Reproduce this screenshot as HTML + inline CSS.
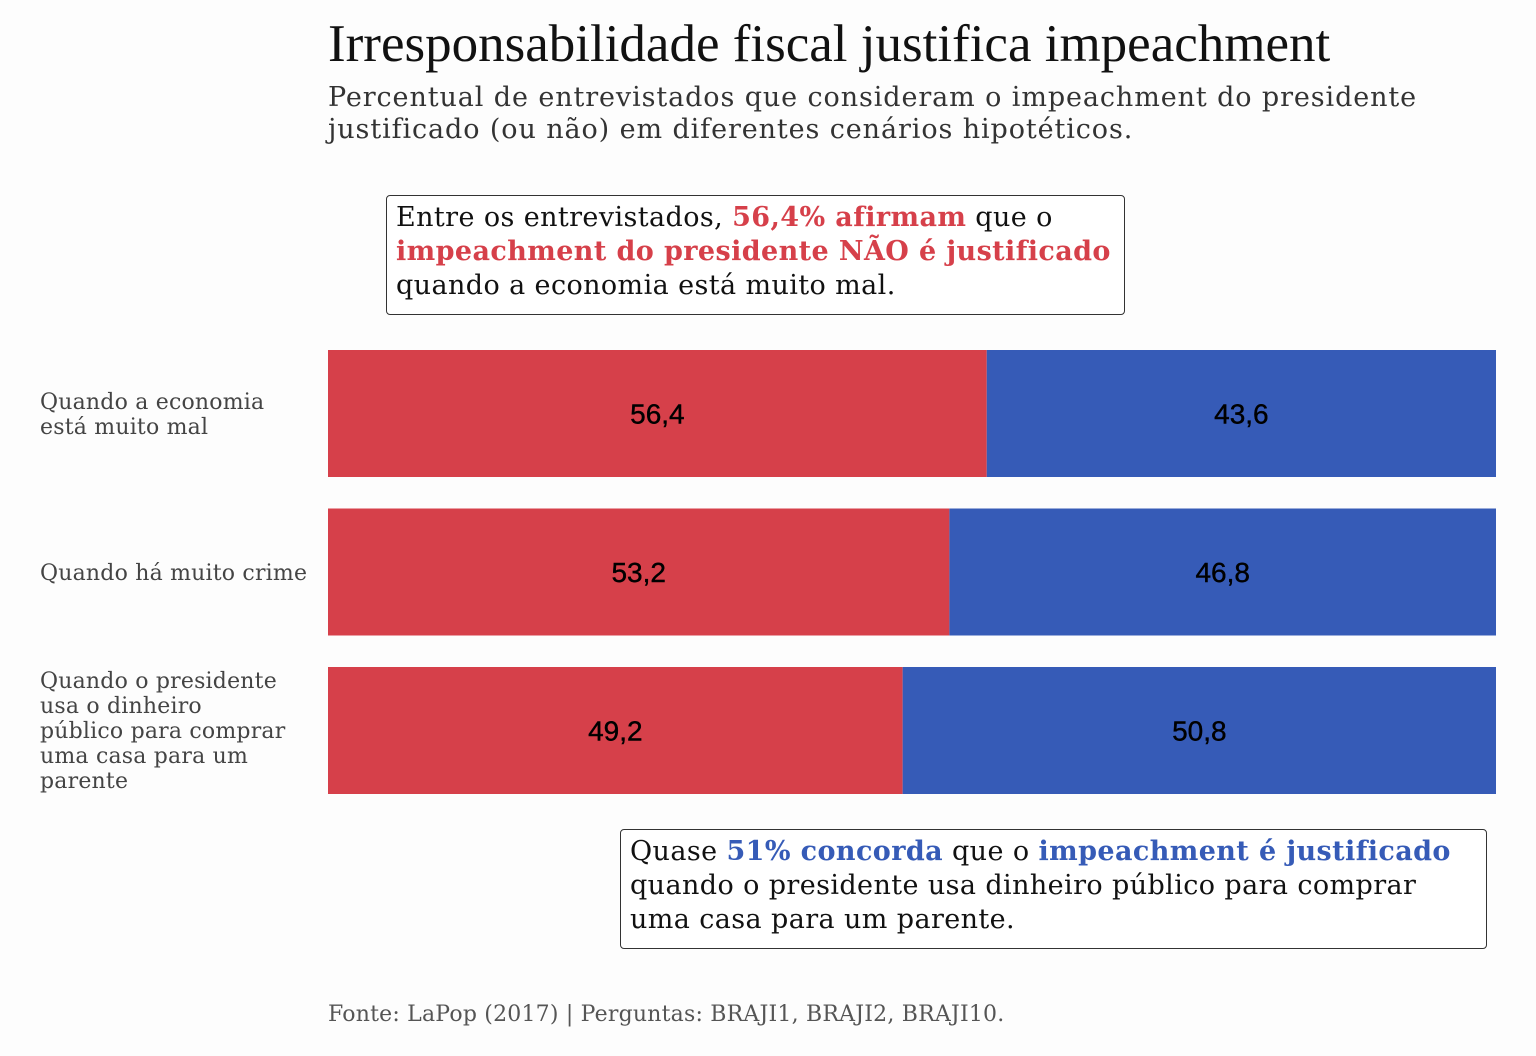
<!DOCTYPE html>
<html><head><meta charset="utf-8"><style>
body{margin:0;width:1536px;height:1056px;background:#fdfdfd;position:relative;overflow:hidden;font-family:"DejaVu Serif","Liberation Serif",serif}
.abs{position:absolute}
#title{left:328px;top:14px;font-family:"Liberation Serif",serif;font-size:53px;color:#111;white-space:nowrap}
#sub{left:328px;top:82px;font-size:27px;line-height:32px;color:#333;width:1180px;letter-spacing:0.9px}
.ann{border:1.5px solid #333;border-radius:4px;background:#fff;font-size:27px;line-height:34px;color:#111;padding:5px 9px;box-sizing:border-box;letter-spacing:0.4px}
.r{color:#d6404a;font-weight:bold}.b{color:#365bb7;font-weight:bold}
.lab{left:40px;font-size:22px;line-height:25px;color:#444;width:285px;letter-spacing:0.2px}
#src{left:328px;top:1002px;font-size:22px;color:#555;letter-spacing:0.2px}
</style></head><body>
<div class="abs" id="title">Irresponsabilidade fiscal justifica impeachment</div>
<div class="abs" id="sub">Percentual de entrevistados que consideram o impeachment do presidente<br>justificado (ou não) em diferentes cenários hipotéticos.</div>
<div class="abs ann" style="left:386px;top:195px;width:739px;height:120px;white-space:nowrap">Entre os entrevistados, <span class="r">56,4% afirmam</span> que o<br><span class="r">impeachment do presidente NÃO é justificado</span><br>quando a economia está muito mal.</div>
<div class="abs ann" style="left:620px;top:829px;width:867px;height:120px;white-space:nowrap">Quase <span class="b">51% concorda</span> que o <span class="b">impeachment é justificado</span><br>quando o presidente usa dinheiro público para comprar<br>uma casa para um parente.</div>
<div class="abs lab" style="top:390px">Quando a economia<br>está muito mal</div>
<div class="abs lab" style="top:561px;white-space:nowrap">Quando há muito crime</div>
<div class="abs lab" style="top:669px">Quando o presidente<br>usa o dinheiro<br>público para comprar<br>uma casa para um<br>parente</div>
<svg class="abs" style="left:0;top:0" width="1536" height="1056" id="chart"></svg>
<div class="abs" id="src">Fonte: LaPop (2017) | Perguntas: BRAJI1, BRAJI2, BRAJI10.</div>
<script>
const categories=["Quando a economia está muito mal","Quando há muito crime","Quando o presidente usa o dinheiro público para comprar uma casa para um parente"];
const naoJustificado=[56.4,53.2,49.2];
const justificado=[43.6,46.8,50.8];
const svg=document.getElementById('chart');const NS='http://www.w3.org/2000/svg';
const x0=328,x1=1496;const x=v=>x0+(x1-x0)*v/100;
const yTop=i=>350+i*158.5;const bh=127;
function fmt(v){return v.toFixed(1).replace('.',',');}
categories.forEach((c,i)=>{
 const y=yTop(i);
 const segs=[[0,naoJustificado[i],'#d6404a','nao'],[naoJustificado[i],naoJustificado[i]+justificado[i],'#365bb7','sim']];
 segs.forEach(s=>{
  const r=document.createElementNS(NS,'rect');
  r.setAttribute('x',x(s[0]));r.setAttribute('y',y);r.setAttribute('width',x(s[1])-x(s[0]));r.setAttribute('height',bh);r.setAttribute('fill',s[2]);
  
  
  svg.appendChild(r);
  const t=document.createElementNS(NS,'text');
  t.setAttribute('x',(x(s[0])+x(s[1]))/2);t.setAttribute('y',y+bh/2+10);t.setAttribute('text-anchor','middle');
  t.setAttribute('font-family','Liberation Sans, sans-serif');t.setAttribute('font-size','28');t.setAttribute('fill','#000');
  t.setAttribute('stroke','#000');t.setAttribute('stroke-width','0.4');
  t.textContent=fmt(s[1]-s[0]);
  
  
  svg.appendChild(t);
 });
});
</script>
</body></html>
